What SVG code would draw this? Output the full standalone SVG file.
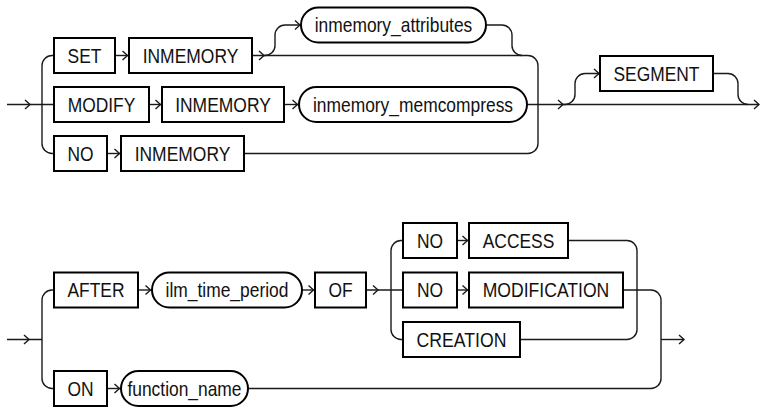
<svg xmlns="http://www.w3.org/2000/svg" xmlns:xlink="http://www.w3.org/1999/xlink" width="760" height="409" viewBox="0 0 760 409">
<style>
.box{fill:#fff;stroke:#000;stroke-width:2}
.ln{fill:none;stroke:#1a1a1a;stroke-width:1.4}
.t{font-family:"Liberation Sans",Arial,sans-serif;font-size:21px;text-anchor:middle;fill:#111}
</style>
<defs>
<path id="a" d="M-5,-4.5 L0,0 L-5,4.5" fill="none" stroke="#1a1a1a" stroke-width="1.4"/>
</defs>
<rect width="760" height="409" fill="#fff"/>
<g id="connectors">
<path class="ln" d="M7,104.5 H54"/>
<path class="ln" d="M54,55.5 H52 A10,10 0 0 0 42,65.5 V143.5 A10,10 0 0 0 52,153.5 H54"/>
<path class="ln" d="M115,55.5 H129"/>
<path class="ln" d="M252,55.5 H528 A10,10 0 0 1 538,65.5 V143.5 A10,10 0 0 1 528,153.5 H244"/>
<path class="ln" d="M264,55.5 H265 A10,10 0 0 0 275,45.5 V35 A10,10 0 0 1 285,25 H301"/>
<path class="ln" d="M486,25 H502 A10,10 0 0 1 512,35 V45.5 A10,10 0 0 0 522,55.5"/>
<path class="ln" d="M149,104.5 H162"/>
<path class="ln" d="M284,104.5 H299"/>
<path class="ln" d="M527,104.5 H759"/>
<path class="ln" d="M107,153.5 H121"/>
<path class="ln" d="M563,104.5 H565 A10,10 0 0 0 575,94.5 V83.5 A10,10 0 0 1 585,73.5 H600"/>
<path class="ln" d="M713,73.5 H728 A10,10 0 0 1 738,83.5 V94.5 A10,10 0 0 0 748,104.5"/>
<path class="ln" d="M7,339.5 H42"/>
<path class="ln" d="M54,290 H52 A10,10 0 0 0 42,300 V378.5 A10,10 0 0 0 52,388.5 H54"/>
<path class="ln" d="M138,290 H152"/>
<path class="ln" d="M302,290 H315"/>
<path class="ln" d="M366,290 H403"/>
<path class="ln" d="M403,240.5 H401 A10,10 0 0 0 391,250.5 V329.5 A10,10 0 0 0 401,339.5 H403"/>
<path class="ln" d="M457,240.5 H469"/>
<path class="ln" d="M457,290 H469"/>
<path class="ln" d="M568,240.5 H627 A10,10 0 0 1 637,250.5 V329.5 A10,10 0 0 1 627,339.5 H520"/>
<path class="ln" d="M623,290 H651 A10,10 0 0 1 661,300 V378.5 A10,10 0 0 1 651,388.5 H248"/>
<path class="ln" d="M107,388.5 H121"/>
<path class="ln" d="M661,339.5 H684"/>
<use href="#a" x="30" y="104.5"/>
<use href="#a" x="127.5" y="55.5"/>
<use href="#a" x="160.5" y="104.5"/>
<use href="#a" x="119.5" y="153.5"/>
<use href="#a" x="264" y="55.5"/>
<use href="#a" x="300" y="25"/>
<use href="#a" x="297.5" y="104.5"/>
<use href="#a" x="563" y="104.5"/>
<use href="#a" x="599" y="73.5"/>
<use href="#a" x="759" y="104.5"/>
<use href="#a" x="29" y="339.5"/>
<use href="#a" x="150.5" y="290"/>
<use href="#a" x="313.5" y="290"/>
<use href="#a" x="378" y="290"/>
<use href="#a" x="467.5" y="240.5"/>
<use href="#a" x="467.5" y="290"/>
<use href="#a" x="119.5" y="388.5"/>
<use href="#a" x="684" y="339.5"/>
</g>
<g id="n-set"><rect class="box" x="54" y="38" width="61" height="35"/><text class="t" x="84.5" y="62.5" textLength="33.8" lengthAdjust="spacingAndGlyphs">SET</text></g>
<g id="n-inmemory1"><rect class="box" x="129" y="38" width="123" height="35"/><text class="t" x="190.5" y="62.5" textLength="95.7" lengthAdjust="spacingAndGlyphs">INMEMORY</text></g>
<g id="n-inmemory-attributes"><rect class="box" x="301" y="7.5" width="185" height="35" rx="17.5"/><text class="t" x="393.5" y="32" textLength="157.6" lengthAdjust="spacingAndGlyphs">inmemory_attributes</text></g>
<g id="n-modify"><rect class="box" x="54" y="87" width="95" height="35"/><text class="t" x="101.5" y="111.5" textLength="67.7" lengthAdjust="spacingAndGlyphs">MODIFY</text></g>
<g id="n-inmemory2"><rect class="box" x="162" y="87" width="122" height="35"/><text class="t" x="223" y="111.5" textLength="95.7" lengthAdjust="spacingAndGlyphs">INMEMORY</text></g>
<g id="n-inmemory-memcompress"><rect class="box" x="299" y="87" width="228" height="35" rx="17.5"/><text class="t" x="413" y="111.5" textLength="200.1" lengthAdjust="spacingAndGlyphs">inmemory_memcompress</text></g>
<g id="n-no1"><rect class="box" x="54" y="136" width="53" height="35"/><text class="t" x="80.5" y="160.5" textLength="26.1" lengthAdjust="spacingAndGlyphs">NO</text></g>
<g id="n-inmemory3"><rect class="box" x="121" y="136" width="123" height="35"/><text class="t" x="182.5" y="160.5" textLength="95.7" lengthAdjust="spacingAndGlyphs">INMEMORY</text></g>
<g id="n-segment"><rect class="box" x="600" y="56" width="113" height="35"/><text class="t" x="656.5" y="80.5" textLength="86" lengthAdjust="spacingAndGlyphs">SEGMENT</text></g>
<g id="n-after"><rect class="box" x="54" y="272.5" width="84" height="35"/><text class="t" x="96" y="297" textLength="57" lengthAdjust="spacingAndGlyphs">AFTER</text></g>
<g id="n-ilm-time-period"><rect class="box" x="152" y="272.5" width="150" height="35" rx="17.5"/><text class="t" x="227" y="297" textLength="122.8" lengthAdjust="spacingAndGlyphs">ilm_time_period</text></g>
<g id="n-of"><rect class="box" x="315" y="272.5" width="51" height="35"/><text class="t" x="340.5" y="297" textLength="24.2" lengthAdjust="spacingAndGlyphs">OF</text></g>
<g id="n-no2"><rect class="box" x="403" y="223" width="54" height="35"/><text class="t" x="430" y="247.5" textLength="26.1" lengthAdjust="spacingAndGlyphs">NO</text></g>
<g id="n-access"><rect class="box" x="469" y="223" width="99" height="35"/><text class="t" x="518.5" y="247.5" textLength="71.5" lengthAdjust="spacingAndGlyphs">ACCESS</text></g>
<g id="n-no3"><rect class="box" x="403" y="272.5" width="54" height="35"/><text class="t" x="430" y="297" textLength="26.1" lengthAdjust="spacingAndGlyphs">NO</text></g>
<g id="n-modification"><rect class="box" x="469" y="272.5" width="154" height="35"/><text class="t" x="546" y="297" textLength="126.6" lengthAdjust="spacingAndGlyphs">MODIFICATION</text></g>
<g id="n-creation"><rect class="box" x="403" y="322" width="117" height="35"/><text class="t" x="461.5" y="346.5" textLength="89.9" lengthAdjust="spacingAndGlyphs">CREATION</text></g>
<g id="n-on"><rect class="box" x="54" y="371" width="53" height="35"/><text class="t" x="80.5" y="395.5" textLength="26.1" lengthAdjust="spacingAndGlyphs">ON</text></g>
<g id="n-function-name"><rect class="box" x="121" y="371" width="127" height="35" rx="17.5"/><text class="t" x="184.5" y="395.5" textLength="114.1" lengthAdjust="spacingAndGlyphs">function_name</text></g>
</svg>
